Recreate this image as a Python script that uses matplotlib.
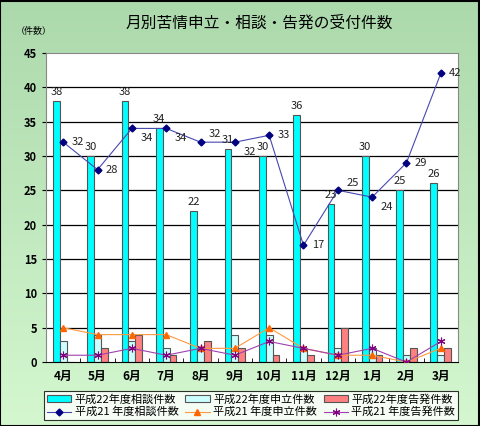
import numpy as np
import matplotlib.pyplot as plt
from matplotlib.colors import LinearSegmentedColormap

plt.rcParams['font.family'] = ['Noto Sans CJK JP', 'DejaVu Sans']

months = ['4月', '5月', '6月', '7月', '8月', '9月', '10月', '11月', '12月', '1月', '2月', '3月']

h22_soudan = [38, 30, 38, 34, 22, 31, 30, 36, 23, 30, 25, 26]
h22_moushitate = [3, 4, 3, 2, 2, 4, 4, 2, 2, 2, 1, 1]
h22_kokuhatsu = [0, 2, 4, 1, 3, 2, 1, 1, 5, 1, 2, 2]

h21_soudan = [32, 28, 34, 34, 32, 32, 33, 17, 25, 24, 29, 42]
h21_moushitate = [5, 4, 4, 4, 2, 2, 5, 2, 1, 1, 0, 2]
h21_kokuhatsu = [1, 1, 2, 1, 2, 1, 3, 2, 1, 2, 0, 3]

# vertical nudge (points) for the H21 line labels
label_dy = [0, 0, -7, -7, 6, -7, 0, 0, 5, -7, 0, 0]

fig = plt.figure(figsize=(4.8, 4.26), dpi=100)

# green gradient background
bg = fig.add_axes([0, 0, 1, 1], zorder=0)
grad = LinearSegmentedColormap.from_list('g', ['#acd9ac', '#d4f7cf'])
bg.imshow(np.linspace(0, 1, 256).reshape(-1, 1), aspect='auto', cmap=grad,
          extent=[0, 1, 0, 1])
bg.set_xlim(0, 1)
bg.set_ylim(0, 1)
bg.axis('off')
bg.add_patch(plt.Rectangle((0.001, 0.001), 0.997, 0.997, fill=False,
                           edgecolor='black', lw=1.5, transform=bg.transAxes))

ax = fig.add_axes([0.096, 0.150, 0.858, 0.726], zorder=1)
ax.set_facecolor('white')

x = np.arange(len(months))
w = 0.2
b1 = ax.bar(x - w, h22_soudan, w, color='#00ffff', edgecolor='#555555', lw=0.8,
            label='平成22年度相談件数', zorder=2)
b2 = ax.bar(x, h22_moushitate, w, color='#ccffff', edgecolor='#555555', lw=0.8,
            label='平成22年度申立件数', zorder=2)
b3 = ax.bar(x + w, h22_kokuhatsu, w, color='#ff8080', edgecolor='#555555', lw=0.8,
            label='平成22年度告発件数', zorder=2)

l1, = ax.plot(x, h21_soudan, color='#4848b0', lw=0.8, marker='D', ms=3.5,
              mfc='#000080', mec='#000080', label='平成21 年度相談件数', zorder=4)
l2, = ax.plot(x, h21_moushitate, color='#ff9940', lw=0.8, marker='^', ms=5,
              mfc='#ff6600', mec='#ff6600', label='平成21 年度申立件数', zorder=4)
l3, = ax.plot(x, h21_kokuhatsu, color='#a040b0', lw=0.8, marker=(6, 2, 0), ms=5.5,
              mfc='#800080', mec='#800080', mew=0.8, label='平成21 年度告発件数', zorder=4)

for xi, v in zip(x, h22_soudan):
    ax.annotate(str(v), (xi - w, v), xytext=(0, 3), textcoords='offset points',
                ha='center', va='bottom', fontsize=8, color='#222222', zorder=5)
for xi, v, dy in zip(x, h21_soudan, label_dy):
    ax.annotate(str(v), (xi, v), xytext=(6, dy), textcoords='offset points',
                ha='left', va='center', fontsize=8, color='#222222', zorder=5)

ax.set_xlim(-0.5, len(months) - 0.5)
ax.set_ylim(0, 45)
ax.set_yticks(range(0, 46, 5))
ax.set_yticklabels([str(v) for v in range(0, 46, 5)], fontsize=8, fontweight='bold')
ax.set_xticks(x)
ax.set_xticklabels(months, fontsize=8.5, fontweight='bold')
ax.tick_params(axis='x', length=0, pad=6)
ax.tick_params(axis='y', length=3)
ax.set_xticks(np.arange(0.5, len(months) - 0.5, 1), minor=True)
ax.tick_params(axis='x', which='minor', direction='in', length=3)
for yv in range(5, 45, 5):
    ax.axhline(yv, color='black', lw=0.9, zorder=1)
for s in ['top', 'right', 'left']:
    ax.spines[s].set_color('#888888')
ax.spines['bottom'].set_color('black')

fig.text(0.54, 0.945, '月別苦情申立・相談・告発の受付件数', ha='center', va='center',
         fontsize=11.3)
fig.text(0.07, 0.925, '（件数）', ha='center', va='center', fontsize=6.5)

leg = fig.legend(handles=[b1, l1, b2, l2, b3, l3], ncol=3, loc='center',
                 bbox_to_anchor=(0.523, 0.048), fontsize=8, frameon=True,
                 fancybox=False, edgecolor='black', handlelength=2.2,
                 handleheight=0.5, handletextpad=0.3, columnspacing=0.6,
                 labelspacing=0.2, borderpad=0.25, borderaxespad=0)
leg.get_frame().set_linewidth(0.8)

fig.savefig('out.png', dpi=100)
